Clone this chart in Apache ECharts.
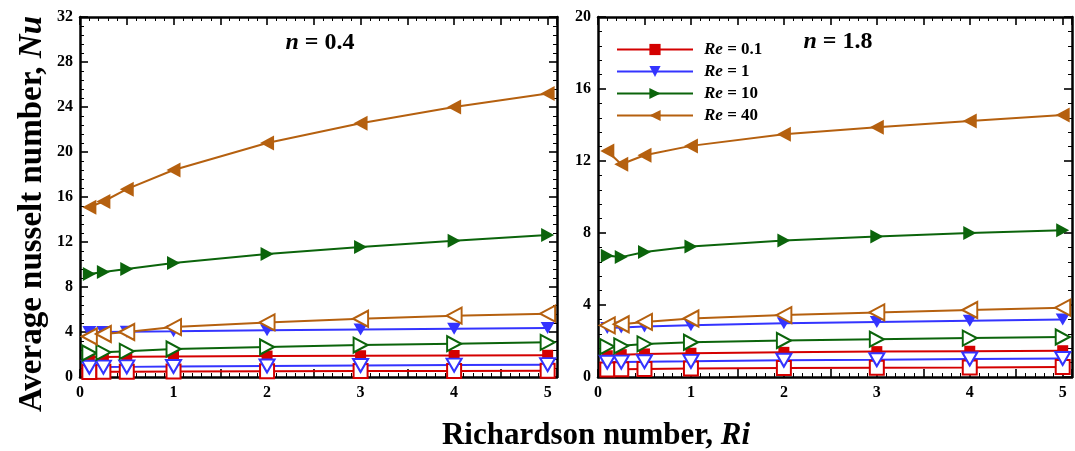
<!DOCTYPE html>
<html>
<head>
<meta charset="utf-8">
<script src="https://cdn.jsdelivr.net/npm/echarts@6/dist/echarts.min.js"></script>
<style>html,body{margin:0;padding:0;background:#fff}#c{width:1075px;height:451px}</style>
</head>
<body>
<div id="c"></div>
<script>
// ---- data ----
const riValues = [0.1, 0.25, 0.5, 1, 2, 3, 4, 5];
const xTickLabels = ['0', '1', '2', '3', '4', '5'];
const yTicksLeft = [0, 4, 8, 12, 16, 20, 24, 28, 32];
const yTicksRight = [0, 4, 8, 12, 16, 20];
const reNames = ['Re = 0.1', 'Re = 1', 'Re = 10', 'Re = 40'];

// n = 0.4 (left panel)
const leftRe01 = [1.76, 1.78, 1.8, 1.83, 1.86, 1.89, 1.91, 1.93];
const leftRe1 = [4.0, 4.0, 4.02, 4.06, 4.15, 4.22, 4.29, 4.36];
const leftRe10 = [9.16, 9.33, 9.6, 10.13, 10.93, 11.56, 12.11, 12.62];
const leftRe40 = [15.1, 15.6, 16.7, 18.4, 20.8, 22.55, 24.0, 25.2];
const leftRe01Open = [0.45, 0.46, 0.47, 0.49, 0.51, 0.53, 0.54, 0.55];
const leftRe1Open = [0.87, 0.88, 0.9, 0.93, 0.98, 1.02, 1.06, 1.1];
const leftRe10Open = [2.13, 2.19, 2.28, 2.49, 2.67, 2.84, 2.96, 3.08];
const leftRe40Open = [3.6, 3.82, 4.0, 4.44, 4.85, 5.18, 5.45, 5.63];

// n = 1.8 (right panel)
const rightRe01 = [1.18, 1.24, 1.28, 1.32, 1.37, 1.41, 1.43, 1.46];
const rightRe1 = [2.72, 2.75, 2.8, 2.88, 2.98, 3.06, 3.13, 3.2];
const rightRe10 = [6.73, 6.66, 6.94, 7.25, 7.59, 7.81, 8.0, 8.15];
const rightRe40 = [12.56, 11.82, 12.32, 12.84, 13.49, 13.88, 14.22, 14.55];
const rightRe01Open = [0.42, 0.43, 0.45, 0.47, 0.5, 0.52, 0.53, 0.55];
const rightRe1Open = [0.82, 0.83, 0.85, 0.87, 0.93, 0.96, 1.0, 1.03];
const rightRe10Open = [1.69, 1.73, 1.84, 1.93, 2.03, 2.1, 2.16, 2.22];
const rightRe40Open = [2.87, 2.93, 3.06, 3.25, 3.44, 3.59, 3.72, 3.85];

// ---- styling ----
const FONT = '"Liberation Serif", "DejaVu Serif", serif';
const colors = ['#d40000', '#3434ff', '#0b640b', '#b5600f'];
const symbols = ['rect', 'triangle', 'triangle', 'triangle'];
const rotates = [0, 180, -90, 90];
const filledSizes = [[11, 11], [14, 12], [14, 13], [15, 14]];
const openSizes = [[14, 14], [15, 13], [15, 14], [16, 15]];

function pairs(vals) { return riValues.map((x, i) => [x, vals[i]]); }

function makeSeries(name, vals, k, open, axisIdx) {
  return {
    type: 'line', name: name,
    xAxisIndex: axisIdx, yAxisIndex: axisIdx,
    data: pairs(vals),
    symbol: symbols[k], symbolRotate: rotates[k],
    symbolSize: open ? openSizes[k] : filledSizes[k],
    showAllSymbol: true,
    lineStyle: { color: colors[k], width: 2 },
    itemStyle: open ? { color: '#fff', borderColor: colors[k], borderWidth: 2 }
                    : { color: colors[k], borderWidth: 0 },
    emphasis: { disabled: true },
    animation: false,
    z: open ? 3 : 2
  };
}

const leftFilled = [leftRe01, leftRe1, leftRe10, leftRe40];
const leftOpen = [leftRe01Open, leftRe1Open, leftRe10Open, leftRe40Open];
const rightFilled = [rightRe01, rightRe1, rightRe10, rightRe40];
const rightOpen = [rightRe01Open, rightRe1Open, rightRe10Open, rightRe40Open];

const series = [];
for (let k = 0; k < 4; k++) {
  series.push(makeSeries('L ' + reNames[k], leftFilled[k], k, false, 0));
  series.push(makeSeries('LO ' + reNames[k], leftOpen[k], k, true, 0));
  series.push(makeSeries(reNames[k], rightFilled[k], k, false, 2));
  series.push(makeSeries('RO ' + reNames[k], rightOpen[k], k, true, 2));
}

const axisLine = { show: true, onZero: false, lineStyle: { color: '#000', width: 2.5 } };
const tick = { show: true, inside: true, length: 8, lineStyle: { color: '#000', width: 1.6 } };
const minor = { show: true, splitNumber: 5, length: 4, lineStyle: { color: '#000', width: 1 } };
const labelStyle = { fontFamily: FONT, fontSize: 16, fontWeight: 'bold', color: '#000' };

function xAx(grid, pos, labels) {
  return {
    type: 'value', gridIndex: grid, position: pos, min: 0, max: 5.1, interval: 0.5,
    axisLine: axisLine, axisTick: tick, minorTick: minor, splitLine: { show: false },
    axisLabel: labels ? Object.assign({ show: true, margin: 8,
      formatter: v => (xTickLabels.indexOf(String(v)) >= 0 ? String(v) : '') }, labelStyle) : { show: false }
  };
}
function yAx(grid, pos, max, ticks, labels) {
  return {
    type: 'value', gridIndex: grid, position: pos, min: 0, max: max, interval: 4,
    axisLine: axisLine, axisTick: tick, minorTick: minor, splitLine: { show: false },
    axisLabel: labels ? Object.assign({ show: true, margin: 7,
      formatter: v => (ticks.indexOf(v) >= 0 ? String(v) : '') }, labelStyle) : { show: false }
  };
}

const option = {
  backgroundColor: '#fff',
  animation: false,
  grid: [
    { left: 80, top: 17, width: 477, height: 360 },
    { left: 598, top: 17, width: 479, height: 360 }
  ],
  xAxis: [xAx(0, 'bottom', true), xAx(0, 'top', false), xAx(1, 'bottom', true), xAx(1, 'top', false)],
  yAxis: [yAx(0, 'left', 32, yTicksLeft, true), yAx(0, 'right', 32, yTicksLeft, false),
          yAx(1, 'left', 20, yTicksRight, true), yAx(1, 'right', 20, yTicksRight, false)],
  legend: {
    data: reNames, orient: 'vertical', left: 616, top: 41, padding: 0,
    itemWidth: 76, itemHeight: 14, itemGap: 5,
    selectedMode: false,
    formatter: n => '{i|Re}' + n.slice(2),
    textStyle: { fontFamily: FONT, fontSize: 17, fontWeight: 'bold', color: '#000', lineHeight: 16, padding: [0, 0, 0, 6],
      rich: { i: { fontFamily: FONT, fontSize: 17, fontWeight: 'bold', fontStyle: 'italic', color: '#000', lineHeight: 16 } } }
  },
  graphic: [
    { type: 'text', x: 320, y: 43, style: { text: '{i|n} = 0.4', align: 'center', verticalAlign: 'middle',
      font: 'bold 24px ' + FONT, fill: '#000',
      rich: { i: { font: 'italic bold 24px ' + FONT, fill: '#000' } } } },
    { type: 'text', x: 838, y: 42, style: { text: '{i|n} = 1.8', align: 'center', verticalAlign: 'middle',
      font: 'bold 24px ' + FONT, fill: '#000',
      rich: { i: { font: 'italic bold 24px ' + FONT, fill: '#000' } } } },
    { type: 'text', x: 596, y: 436, style: { text: 'Richardson number, {i|Ri}', align: 'center', verticalAlign: 'middle',
      font: 'bold 31px ' + FONT, fill: '#000',
      rich: { i: { font: 'italic bold 31px ' + FONT, fill: '#000' } } } },
    { type: 'text', x: 32, y: 214, rotation: Math.PI / 2, style: { text: 'Average nusselt number, {i|Nu}', align: 'center', verticalAlign: 'middle',
      font: 'bold 33px ' + FONT, fill: '#000',
      rich: { i: { font: 'italic bold 33px ' + FONT, fill: '#000' } } } }
  ],
  series: series
};

const chart = echarts.init(document.getElementById('c'), null, { renderer: 'canvas' });
chart.setOption(option);
</script>
</body>
</html>
